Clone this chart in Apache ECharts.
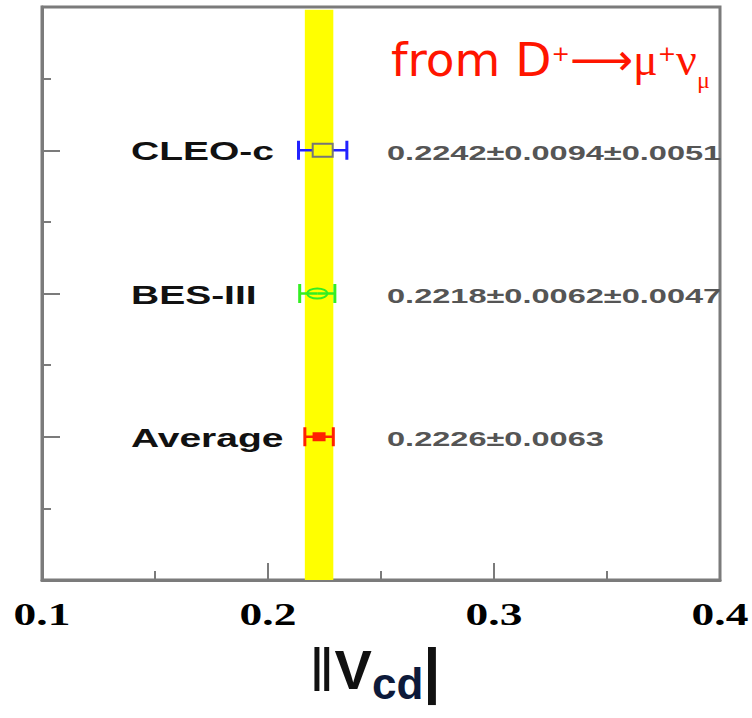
<!DOCTYPE html>
<html>
<head>
<meta charset="utf-8">
<script src="https://cdn.jsdelivr.net/npm/echarts@6/dist/echarts.min.js"></script>
<style>
html,body{margin:0;padding:0;background:#fff;}
#chart{width:752px;height:718px;}
</style>
</head>
<body>
<div id="chart"></div>
<script>
// ---- data ----
var experiments = ['CLEO-c', 'BES-III', 'Average'];
var centralValues = [0.2242, 0.2218, 0.2226];
var statErrors = [0.0094, 0.0062, 0.0063];
var systErrors = [0.0051, 0.0047, 0];
var rowPositions = [6, 4, 2];
var valueLabels = ['0.2242\u00b10.0094\u00b10.0051', '0.2218\u00b10.0062\u00b10.0047', '0.2226\u00b10.0063'];
var markerTypes = ['openBox', 'openEllipse', 'filledBox'];
var averageValue = 0.2226;
var averageError = 0.0063;
var xTickValues = [0.1, 0.2, 0.3, 0.4];
var xTickLabels = ['0.1', '0.2', '0.3', '0.4'];

// ---- styling ----
var barColors = ['#2222ff', '#33ee22', '#ff2200'];
var frameColor = '#7b7b7b';
var STRETCH = 1.5;

var rows = experiments.map(function (name, i) {
  var err = Math.sqrt(statErrors[i] * statErrors[i] + systErrors[i] * systErrors[i]);
  return [centralValues[i], rowPositions[i], centralValues[i] - err, centralValues[i] + err, i];
});

var chart = echarts.init(document.getElementById('chart'), null, {renderer: 'svg'});

function renderRow(params, api) {
  var i = api.value(4);
  var c = api.coord([api.value(0), api.value(1)]);
  var lo = api.coord([api.value(2), api.value(1)]);
  var hi = api.coord([api.value(3), api.value(1)]);
  var col = barColors[i];
  var y = c[1];
  var children = [];
  var lw = 2.5, capH = 19, capW = 3;
  var type = markerTypes[i];
  var gapL = c[0], gapR = c[0];
  if (type === 'openBox') { gapL = c[0] - 10; gapR = c[0] + 10; }
  children.push({type: 'line', shape: {x1: lo[0], y1: y, x2: gapL, y2: y}, style: {stroke: col, lineWidth: lw}});
  children.push({type: 'line', shape: {x1: gapR, y1: y, x2: hi[0], y2: y}, style: {stroke: col, lineWidth: lw}});
  children.push({type: 'line', shape: {x1: lo[0], y1: y - capH / 2, x2: lo[0], y2: y + capH / 2}, style: {stroke: col, lineWidth: capW}});
  children.push({type: 'line', shape: {x1: hi[0], y1: y - capH / 2, x2: hi[0], y2: y + capH / 2}, style: {stroke: col, lineWidth: capW}});
  if (type === 'openBox') {
    children.push({type: 'rect', shape: {x: c[0] - 10, y: y - 6.5, width: 20, height: 13}, style: {fill: 'none', stroke: '#777', lineWidth: 2}});
  } else if (type === 'openEllipse') {
    children.push({type: 'ellipse', shape: {cx: c[0], cy: y, rx: 10, ry: 5}, style: {fill: 'none', stroke: col, lineWidth: 2}});
  } else {
    children.push({type: 'rect', shape: {x: c[0] - 6.5, y: y - 4.5, width: 13, height: 9}, style: {fill: col}});
  }
  // experiment label
  var left = api.coord([xTickValues[0], api.value(1)])[0];
  children.push({type: 'text', x: left + 89, y: y + 1, scaleX: STRETCH,
    style: {text: experiments[i], fill: '#111', font: 'bold 26px "Liberation Sans", Arial, sans-serif', align: 'left', verticalAlign: 'middle'}});
  children.push({type: 'text', x: left + 345, y: y + 2, scaleX: 1.55,
    style: {text: valueLabels[i], fill: '#555', font: 'bold 21px "Liberation Sans", Arial, sans-serif', align: 'left', verticalAlign: 'middle'}});
  return {type: 'group', children: children};
}

function renderTick(params, api) {
  var p = api.coord([api.value(0), 0]);
  return {type: 'text', x: p[0], y: p[1] + 34, scaleX: 1.42,
    style: {text: xTickLabels[params.dataIndex], fill: '#000', font: 'bold 32px "Liberation Serif", "Times New Roman", serif', align: 'center', verticalAlign: 'middle'}};
}

var red = '#ff1500';
var option = {
  backgroundColor: '#fff',
  animation: false,
  grid: {left: 42, right: 32, top: 7, bottom: 138, show: true, borderColor: frameColor, borderWidth: 3, backgroundColor: 'transparent'},
  xAxis: {
    type: 'value', min: 0.1, max: 0.4, interval: 0.1,
    axisLine: {show: true, onZero: false, lineStyle: {color: frameColor, width: 3}},
    axisTick: {show: true, inside: true, length: 17, lineStyle: {color: frameColor, width: 2}},
    minorTick: {show: true, splitNumber: 2, length: 9, lineStyle: {color: frameColor, width: 2}},
    axisLabel: {show: false},
    splitLine: {show: false}
  },
  yAxis: {
    type: 'value', min: 0, max: 8, interval: 2,
    axisLine: {show: true, onZero: false, lineStyle: {color: frameColor, width: 3}},
    axisTick: {show: true, inside: true, length: 18, lineStyle: {color: frameColor, width: 2}},
    minorTick: {show: true, splitNumber: 2, length: 9, lineStyle: {color: frameColor, width: 2}},
    axisLabel: {show: false},
    splitLine: {show: false}
  },
  graphic: [
    {type: 'text', left: 391, top: 36, z: 10,
      style: {
        text: '{m|from D}{sup|+}{arr|\u27f6}{g|\u03bc}{sup|+}{g|\u03bd}{sub|\u03bc}',
        rich: {
          m: {fontSize: 47, fontFamily: '"DejaVu Sans", sans-serif', fill: red, lineHeight: 64},
          sup: {fontSize: 22, fontFamily: '"DejaVu Sans", sans-serif', fill: red, verticalAlign: 'middle', lineHeight: 24, padding: [0, 0, 12, 0]},
          arr: {fontSize: 44, fontFamily: '"DejaVu Sans", sans-serif', fill: red, lineHeight: 64},
          g: {fontSize: 46, fontFamily: '"Liberation Serif", serif', fill: red, lineHeight: 64},
          sub: {fontSize: 24, fontFamily: '"Liberation Serif", serif', fill: red, verticalAlign: 'bottom', lineHeight: 22}
        }
      }
    },
    {type: 'text', left: 309, top: 638, z: 10,
      style: {
        text: '{b|\u2016}{v|V}{s|cd}{c|\u007c}',
        rich: {
          b: {fontSize: 62, fontFamily: '"Liberation Sans", sans-serif', fill: '#111', lineHeight: 72},
          c: {fontSize: 62, fontWeight: 'bold', fontFamily: '"Liberation Sans", sans-serif', fill: '#111', lineHeight: 72},
          v: {fontSize: 56, fontWeight: 'bold', fontFamily: '"Liberation Sans", sans-serif', fill: '#111', lineHeight: 72},
          s: {fontSize: 44, fontWeight: 'bold', fontFamily: '"Liberation Sans", sans-serif', fill: '#0d1a3a', verticalAlign: 'bottom', lineHeight: 52}
        }
      }
    }
  ],
  series: [
    {
      type: 'line', data: [], z: 1, silent: true,
      markArea: {silent: true, itemStyle: {color: '#ffff00', opacity: 1},
        data: [[{xAxis: averageValue - averageError, yAxis: 0}, {xAxis: averageValue + averageError, yAxis: 7.96}]]}
    },
    {type: 'custom', z: 3, silent: true, renderItem: renderRow, data: rows, encode: {x: 0, y: 1}},
    {type: 'custom', z: 3, silent: true, renderItem: renderTick, data: xTickValues.map(function (v) { return [v, 0]; }), encode: {x: 0, y: 1}}
  ]
};
chart.setOption(option);
</script>
</body>
</html>
